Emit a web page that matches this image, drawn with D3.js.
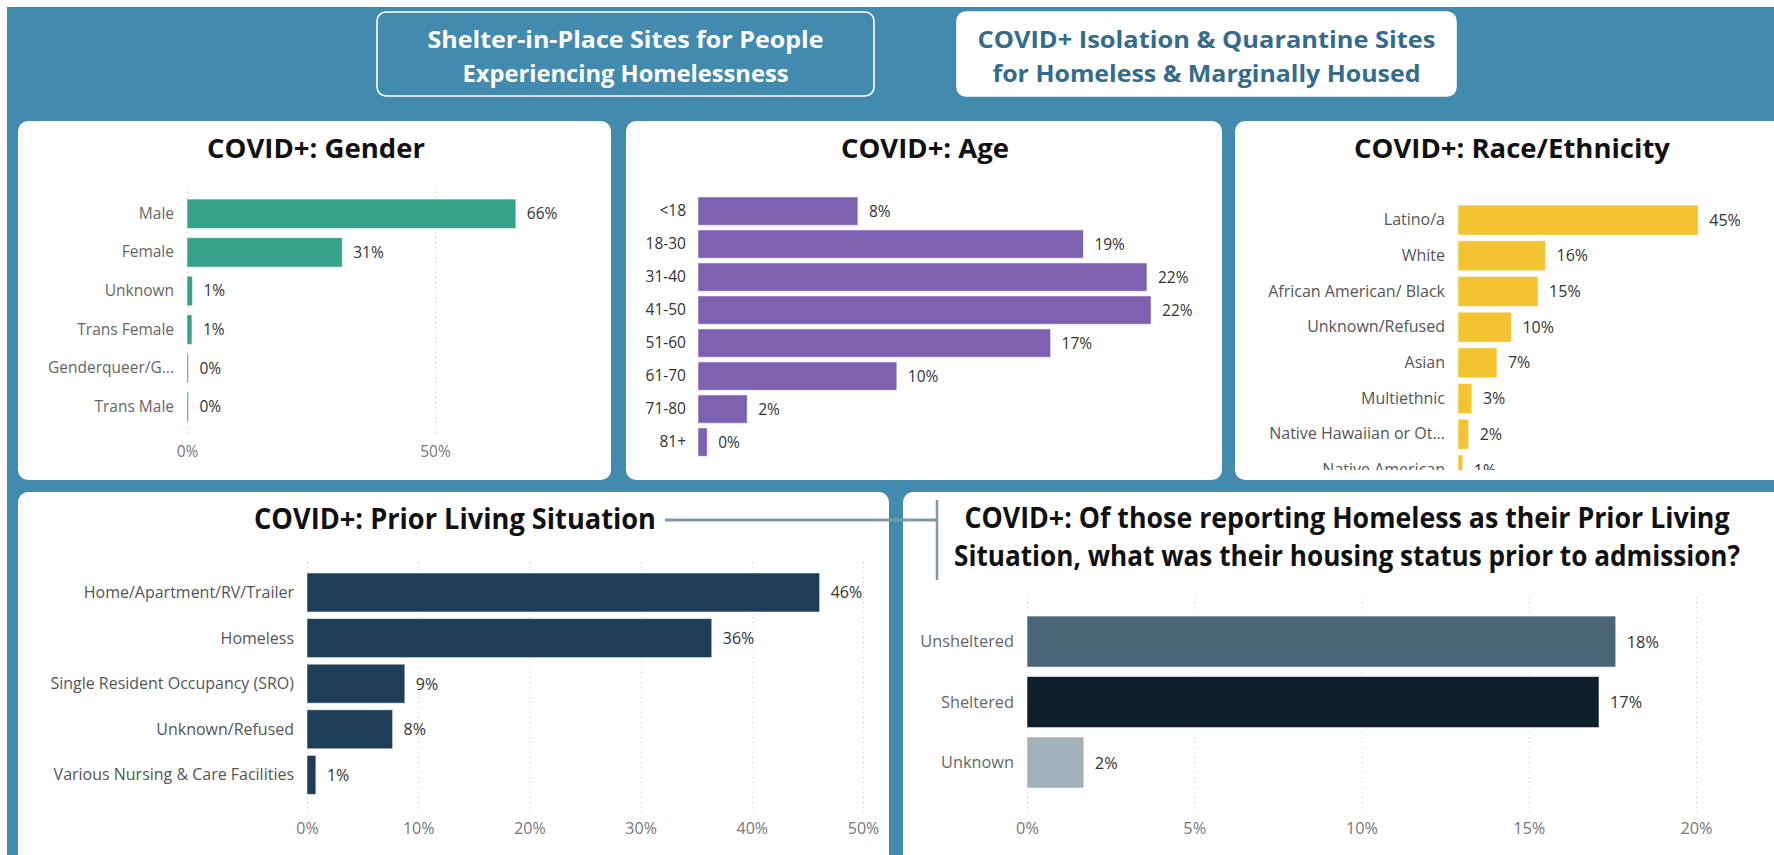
<!DOCTYPE html>
<html>
<head>
<meta charset="utf-8">
<script src="https://cdn.jsdelivr.net/npm/d3@7"></script>
<style>
  body { margin: 0; background: #fff; overflow: hidden; }
  text { font-family: "Open Sans", "Noto Sans", sans-serif; }
</style>
</head>
<body>
<div class="chart"></div>
<script>
// ---- data (percent of COVID+ guests) ----
const genderCats = ["Male", "Female", "Unknown", "Trans Female", "Genderqueer/G...", "Trans Male"];
const genderVals = [66.3, 31.3, 1.1, 1.0, 0.3, 0.3];
const genderTicks = [0, 50];

const ageCats = ["<18", "18-30", "31-40", "41-50", "51-60", "61-70", "71-80", "81+"];
const ageVals = [7.8, 18.8, 21.9, 22.1, 17.2, 9.7, 2.4, 0.45];

const raceCats = ["Latino/a", "White", "African American/ Black", "Unknown/Refused", "Asian",
  "Multiethnic", "Native Hawaiian or Ot...", "Native American"];
const raceVals = [45.0, 16.4, 15.0, 10.0, 7.3, 2.6, 2.0, 0.9];

const priorCats = ["Home/Apartment/RV/Trailer", "Homeless", "Single Resident Occupancy (SRO)",
  "Unknown/Refused", "Various Nursing & Care Facilities"];
const priorVals = [46.1, 36.4, 8.8, 7.7, 0.8];
const priorTicks = [0, 10, 20, 30, 40, 50];

const statusCats = ["Unsheltered", "Sheltered", "Unknown"];
const statusVals = [17.6, 17.1, 1.7];
const statusTicks = [0, 5, 10, 15, 20];

const blue = "#438bae";

const svg = d3.select(".chart").append("svg")
  .attr("width", 1774)
  .attr("height", 855);

svg.append("rect")
  .attr("x", 7).attr("y", 7)
  .attr("width", 1774).attr("height", 855)
  .attr("fill", blue);

// squeeze text horizontally (the dashboard font is narrow)
function condense(sel, k) {
  sel.each(function () {
    const w = this.getComputedTextLength();
    d3.select(this).attr("textLength", w * k).attr("lengthAdjust", "spacingAndGlyphs");
  });
}

// ---- header buttons ----
function button(x, y, w, h, fill, color, lines, widths) {
  svg.append("rect")
    .attr("x", x).attr("y", y).attr("width", w).attr("height", h)
    .attr("rx", 9)
    .attr("fill", fill)
    .attr("stroke", "#fff").attr("stroke-width", 1.6);
  lines.forEach((t, i) => {
    svg.append("text")
      .attr("x", x + w / 2)
      .attr("y", y + 28 + i * 34)
      .attr("dy", "0.35em")
      .attr("text-anchor", "middle")
      .attr("font-size", "23px")
      .attr("font-weight", 700)
      .attr("fill", color)
      .attr("textLength", widths[i])
      .attr("lengthAdjust", "spacingAndGlyphs")
      .text(t);
  });
}
button(377, 12, 497, 84, blue, "#fff",
  ["Shelter-in-Place Sites for People", "Experiencing Homelessness"], [396, 326]);
button(957, 12, 499, 84, "#fff", "#336c8c",
  ["COVID+ Isolation & Quarantine Sites", "for Homeless & Marginally Housed"], [458, 428]);

// ---- generic horizontal bar chart ----
function barChart(o) {
  const g = svg.append("g");

  g.append("rect")
    .attr("x", o.panel[0]).attr("y", o.panel[1])
    .attr("width", o.panel[2]).attr("height", o.panel[3])
    .attr("rx", 10)
    .attr("fill", "#fff");

  o.title.forEach((t, i) => {
    const tt = g.append("text")
      .attr("x", o.titleX)
      .attr("y", o.titleY + i * 38)
      .attr("dy", "0.35em")
      .attr("text-anchor", "middle")
      .attr("font-size", o.titleSize + "px")
      .attr("font-weight", 700)
      .attr("fill", "#111")
      .text(t);
    if (o.titleWidths) tt.attr("textLength", o.titleWidths[i]).attr("lengthAdjust", "spacingAndGlyphs");
  });

  const x = d3.scaleLinear().domain([0, o.max]).range([o.x0, o.x0 + o.max * o.pxPer]);
  const y = d3.scaleBand()
    .domain(o.cats)
    .range(o.yRange)
    .paddingInner(o.pad)
    .paddingOuter(o.pad / 2);

  const plot = g.append("g");
  if (o.clip) {
    svg.append("clipPath").attr("id", o.clip.id)
      .append("rect")
      .attr("x", o.clip.x).attr("y", o.clip.y)
      .attr("width", o.clip.w).attr("height", o.clip.h);
    plot.attr("clip-path", `url(#${o.clip.id})`);
  }

  if (o.ticks) {
    // dotted gridlines
    plot.append("g")
      .attr("transform", `translate(0,${o.grid[1]})`)
      .call(d3.axisBottom(x).tickValues(o.ticks).tickSize(-(o.grid[1] - o.grid[0])).tickFormat(""))
      .call(a => a.select(".domain").remove())
      .call(a => a.selectAll("line").attr("stroke", "#c8c8c8").attr("stroke-dasharray", "1,4"));
    // tick labels
    const ax = plot.append("g")
      .attr("transform", `translate(0,${o.tickY})`)
      .call(d3.axisBottom(x).tickValues(o.ticks).tickSize(0).tickFormat(d => d + "%"))
      .call(a => a.select(".domain").remove())
      .call(a => a.selectAll("text")
        .attr("y", 0).attr("dy", "0.35em")
        .attr("font-size", o.fs + "px")
        .attr("font-family", null)
        .attr("fill", "#777"));
    if (o.squeeze) condense(ax.selectAll("text"), o.squeeze);
  }

  const yAx = plot.append("g")
    .attr("transform", `translate(${o.x0},0)`)
    .call(d3.axisLeft(y).tickSize(0).tickPadding(o.labelPad))
    .call(a => a.select(".domain").remove())
    .call(a => a.selectAll("text")
      .attr("font-size", o.fs + "px")
      .attr("font-family", null)
      .attr("fill", o.labelColor));
  if (o.squeeze) condense(yAx.selectAll("text"), o.squeeze);

  plot.selectAll(".bar")
    .data(o.vals)
    .enter().append("rect")
    .attr("class", "bar")
    .attr("x", x(0))
    .attr("y", (d, i) => y(o.cats[i]))
    .attr("width", d => x(d) - x(0))
    .attr("height", y.bandwidth())
    .attr("fill", (d, i) => Array.isArray(o.color) ? o.color[i] : o.color)
    .attr("stroke", "#fff").attr("stroke-opacity", 0.55).attr("stroke-width", 1);

  const vl = plot.selectAll(".val")
    .data(o.vals)
    .enter().append("text")
    .attr("class", "val")
    .attr("x", d => x(d) + 11)
    .attr("y", (d, i) => y(o.cats[i]) + y.bandwidth() / 2)
    .attr("dy", "0.35em")
    .attr("font-size", o.fs + "px")
    .attr("fill", "#333")
    .text(d => d3.format(".0f")(d) + "%");
  if (o.squeeze) condense(vl, o.squeeze);
}

barChart({
  panel: [18, 121, 593, 359],
  title: ["COVID+: Gender"], titleX: 316, titleY: 148, titleSize: 27.5,
  cats: genderCats, vals: genderVals, color: "#36a28a",
  x0: 187, pxPer: 4.96, max: 70,
  yRange: [194.5, 426.1], pad: 0.236,
  ticks: genderTicks, grid: [183, 433], tickY: 452,
  fs: 15.5, labelPad: 13, labelColor: "#666"
});

barChart({
  panel: [626, 121, 596, 359],
  title: ["COVID+: Age"], titleX: 925, titleY: 148, titleSize: 27.5,
  cats: ageCats, vals: ageVals, color: "#7e60b0",
  x0: 698, pxPer: 20.5, max: 25,
  yRange: [194.6, 458.6], pad: 0.142,
  fs: 15.5, labelPad: 12, labelColor: "#333"
});

barChart({
  panel: [1235, 121, 560, 359],
  title: ["COVID+: Race/Ethnicity"], titleX: 1512, titleY: 148, titleSize: 27.5,
  cats: raceCats, vals: raceVals, color: "#f4c331",
  x0: 1458, pxPer: 5.34, max: 50,
  yRange: [202.2, 487.8], pad: 0.16,
  clip: { id: "raceClip", x: 1235, y: 121, w: 560, h: 349 },
  fs: 16, labelPad: 13, labelColor: "#555"
});

barChart({
  panel: [18, 492, 871, 400],
  title: ["COVID+: Prior Living Situation"], titleX: 455, titleY: 519, titleSize: 28,
  titleWidths: [402],
  cats: priorCats, vals: priorVals, color: "#1e3d58",
  x0: 307, pxPer: 11.12, max: 50,
  yRange: [569.7, 797.7], pad: 0.145,
  ticks: priorTicks, grid: [560, 813], tickY: 828,
  fs: 17, labelPad: 13, labelColor: "#555", squeeze: 0.94
});

barChart({
  panel: [903, 492, 900, 400],
  title: ["COVID+: Of those reporting Homeless as their Prior Living",
          "Situation, what was their housing status prior to admission?"],
  titleX: 1347, titleY: 518, titleSize: 28, titleWidths: [765, 786],
  cats: statusCats, vals: statusVals, color: ["#4a6478", "#0f1f2b", "#a3b1ba"],
  x0: 1027, pxPer: 33.45, max: 20,
  yRange: [611.3, 792.8], pad: 0.157,
  ticks: statusTicks, grid: [593, 813], tickY: 828,
  fs: 17, labelPad: 13, labelColor: "#666", squeeze: 0.96
});

// connector between the two bottom titles
svg.append("path")
  .attr("d", "M665,520H937")
  .attr("fill", "none")
  .attr("stroke", "#7f97a8")
  .attr("stroke-width", 3);
svg.append("path")
  .attr("d", "M937,500V580")
  .attr("fill", "none")
  .attr("stroke", "#7f97a8")
  .attr("stroke-width", 2.5);
</script>
</body>
</html>
